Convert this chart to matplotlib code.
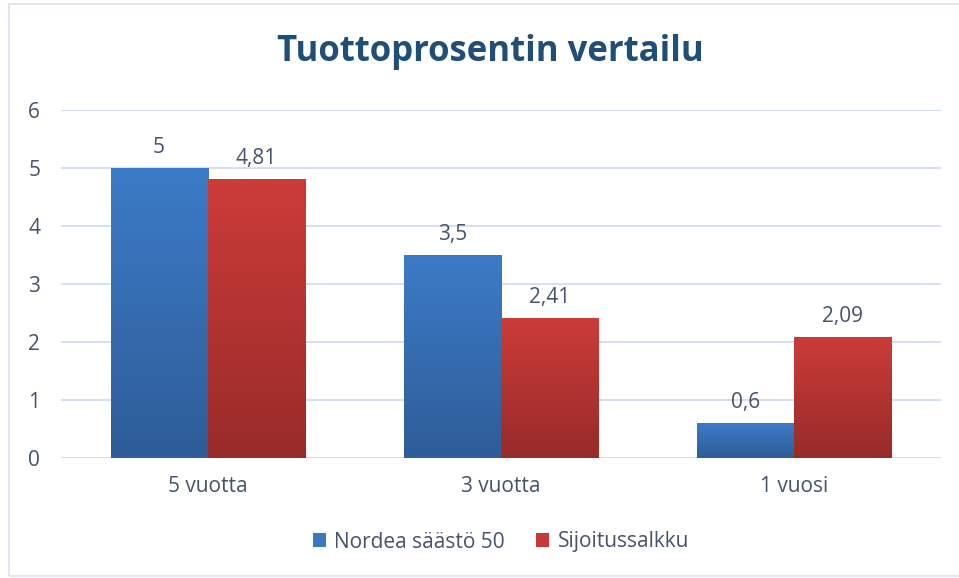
import matplotlib
matplotlib.use("Agg")
import matplotlib.pyplot as plt
import numpy as np
from matplotlib.patches import Rectangle
from matplotlib.colors import LinearSegmentedColormap

categories = ["5 vuotta", "3 vuotta", "1 vuosi"]
series_names = ["Nordea säästö 50", "Sijoitussalkku"]
nordea = [5, 3.5, 0.6]
salkku = [4.81, 2.41, 2.09]
yticks = [0, 1, 2, 3, 4, 5, 6]
title = "Tuottoprosentin vertailu"

W, H = 959, 578
fig = plt.figure(figsize=(W / 100, H / 100), dpi=100)
fig.patch.set_facecolor("white")
plt.rcParams['font.family'] = ['Open Sans', 'DejaVu Sans']

FS = 15
TXT = "#44546A"

# chart border
fig.patches.append(Rectangle((9 / W, 1 - 576 / H), (970 - 9) / W, (576 - 4) / H,
                             transform=fig.transFigure, fill=False,
                             edgecolor="#DCE4F0", linewidth=1.3))

ax = fig.add_axes([61 / W, 1 - 458 / H, (941 - 61) / W, (458 - 110) / H])
for s in ax.spines.values():
    s.set_visible(False)
ax.set_yticks(yticks)
ax.set_yticklabels([str(t) for t in yticks])
ax.yaxis.grid(True, color="#D5E0F0", linewidth=1.4)
ax.set_axisbelow(True)
ax.tick_params(axis="both", length=0, labelsize=FS, labelcolor=TXT)
ax.tick_params(axis="y", pad=15)
ax.tick_params(axis="x", pad=13)
ax.set_xticks(range(len(categories)))
ax.set_xticklabels(categories)

x = np.arange(len(categories))
bw = 0.331
cmap_blue = LinearSegmentedColormap.from_list("b", ["#2E5D98", "#3C7BC7"])
cmap_red = LinearSegmentedColormap.from_list("r", ["#982B29", "#CC3C39"])

def grad_bars(xs, vals, color, cmap, label):
    bars = ax.bar(xs, vals, width=bw, color=color, label=label, zorder=2)
    for b in bars:
        x0, y0 = b.get_x(), b.get_y()
        w, h = b.get_width(), b.get_height()
        grad = np.linspace(0, 1, 256).reshape(-1, 1)
        im = ax.imshow(grad, extent=(x0, x0 + w, y0, y0 + h), origin="lower",
                       cmap=cmap, aspect="auto", zorder=3, vmin=0, vmax=1)
        im.set_clip_path(b)
    return bars

b1 = grad_bars(x - bw / 2, nordea, "#3A78C2", cmap_blue, series_names[0])
b2 = grad_bars(x + bw / 2, salkku, "#C53A37", cmap_red, series_names[1])
ax.set_xlim(-0.5, 2.5)
ax.set_ylim(0, 6)

def fmt(v):
    return f"{v:g}".replace(".", ",")

for xs, vals in ((x - bw / 2, nordea), (x + bw / 2, salkku)):
    for xi, v in zip(xs, vals):
        ax.annotate(fmt(v), (xi, v), xytext=(0, 7), textcoords="offset points",
                    ha="center", va="bottom", fontsize=FS, color=TXT, zorder=5)

fig.text(490 / W, 1 - 52 / H, title, ha="center", va="center",
         fontsize=25, fontweight="bold", color="#1F4E79")

leg = ax.legend(handles=[b1, b2], loc="center",
                bbox_to_anchor=(0.5, (458 - 542) / (458 - 110)),
                ncol=2, frameon=False, fontsize=FS, handlelength=0.62, handleheight=0.62,
                columnspacing=1.5, handletextpad=0.4)
for t in leg.get_texts():
    t.set_color(TXT)

fig.savefig("out.png", dpi=100, facecolor="white")
